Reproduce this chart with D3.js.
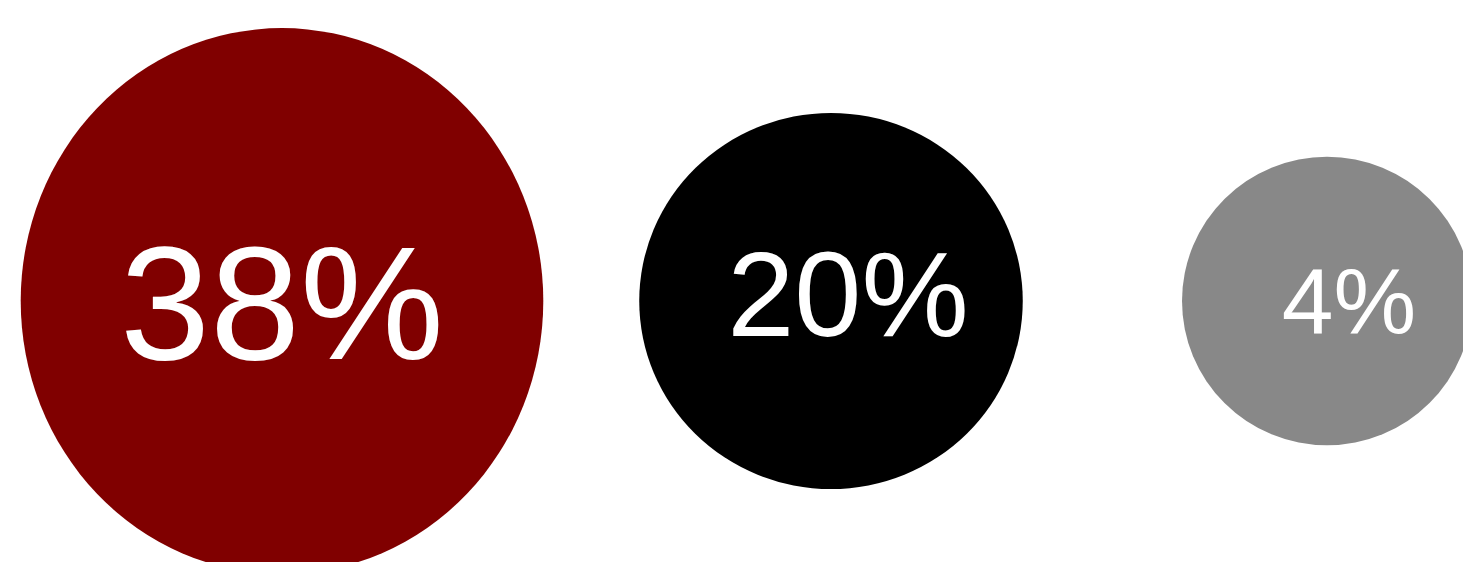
<!DOCTYPE html>
<html>
<head>
<meta charset="utf-8">
<script src="https://cdn.jsdelivr.net/npm/d3@7"></script>
<style>
  html, body { margin: 0; padding: 0; background: #ffffff; overflow: hidden; }
  svg { display: block; }
</style>
</head>
<body>
<svg id="chart" width="1463" height="562"></svg>
<script>
// Share values shown as bubbles
const keys   = ["a", "b", "c"];
const values = [38, 20, 4];
const labels = ["38%", "20%", "4%"];

// Styling
const palette = ["#800000", "#000000", "#888888"];

const width = 1463, height = 562;
const svg = d3.select("#chart");

// Bubble centre along the row
const x = d3.scaleOrdinal().domain(keys).range([282, 831, 1327]);
const cy = 301;

// Bubble radii grow with the value
const rx = d3.scalePow().exponent(1.3).domain([0, 38]).range([138.4, 261.3]);
const ry = d3.scalePow().exponent(1.6).domain([0, 38]).range([140.7, 272.9]);

// Label size follows bubble width
const fontSize = v => 7 + 0.593 * rx(v);

// Label placement tweaks inside each bubble
const nudge = { a: [0, 0], b: [17, -8], c: [22, -1] };

const data = keys.map((k, i) => ({ key: k, value: values[i], label: labels[i], color: palette[i] }));

const g = svg.selectAll("g.bubble")
  .data(data)
  .join("g")
  .attr("class", "bubble")
  .attr("transform", d => `translate(${x(d.key)},${cy})`);

g.append("ellipse")
  .attr("rx", d => rx(d.value))
  .attr("ry", d => ry(d.value))
  .attr("fill", d => d.color);

g.append("text")
  .attr("x", d => nudge[d.key][0])
  .attr("y", d => nudge[d.key][1])
  .attr("dy", "0.355em")
  .attr("text-anchor", "middle")
  .attr("fill", "#ffffff")
  .attr("font-family", "'Liberation Sans', Arial, Helvetica, sans-serif")
  .attr("font-size", d => fontSize(d.value))
  .text(d => d.label);
</script>
</body>
</html>
